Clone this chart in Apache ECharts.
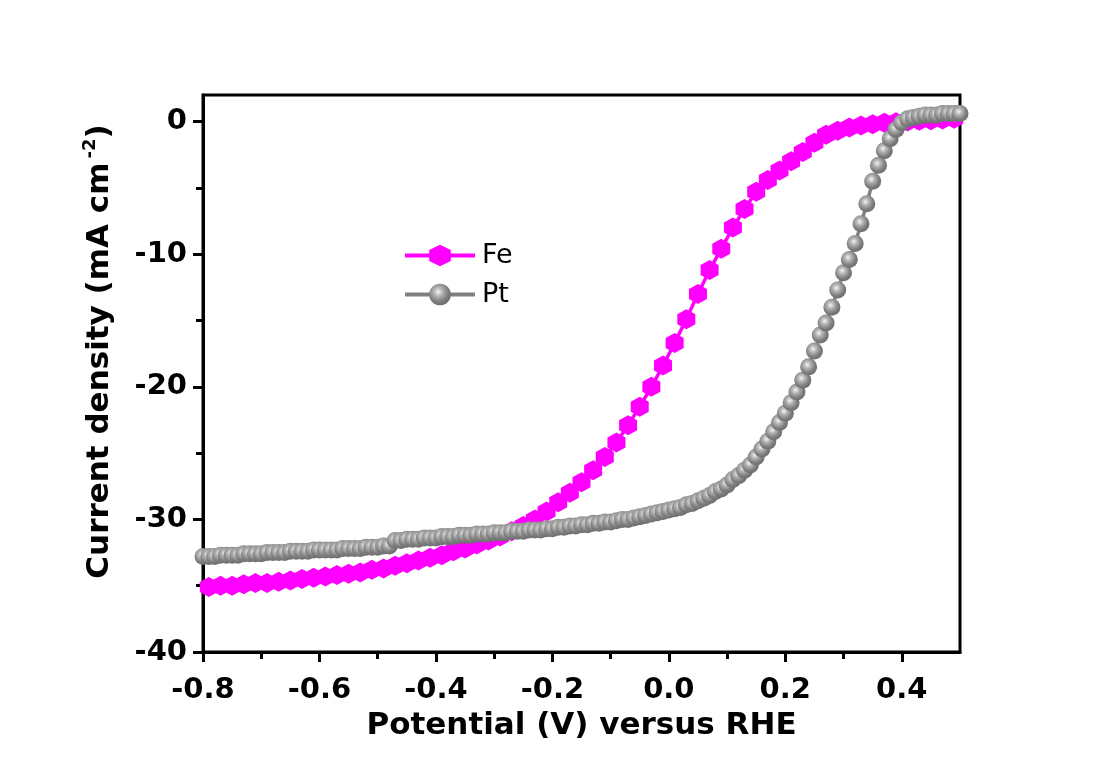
<!DOCTYPE html>
<html><head><meta charset="utf-8">
<script src="https://cdn.jsdelivr.net/npm/echarts@6/dist/echarts.min.js"></script>
<style>html,body{margin:0;padding:0;background:#fff}#c{width:1100px;height:774px}</style>
</head><body><div id="c"></div>
<script>
// ---- data ----
const seriesNames = ['Fe', 'Pt'];
const feX = [-0.79,-0.77,-0.75,-0.73,-0.71,-0.69,-0.67,-0.65,-0.63,-0.61,-0.59,-0.57,-0.55,-0.53,-0.51,-0.49,-0.47,-0.45,-0.43,-0.41,-0.39,-0.37,-0.35,-0.33,-0.31,-0.29,-0.27,-0.25,-0.23,-0.21,-0.19,-0.17,-0.15,-0.13,-0.11,-0.09,-0.07,-0.05,-0.03,-0.01,0.01,0.03,0.05,0.07,0.09,0.11,0.13,0.15,0.17,0.19,0.21,0.23,0.25,0.27,0.29,0.31,0.33,0.35,0.37,0.39,0.41,0.43,0.45,0.47,0.49];
const feY = [-35.1,-35.0,-35.0,-34.9,-34.8,-34.8,-34.7,-34.6,-34.5,-34.4,-34.3,-34.2,-34.1,-34.0,-33.8,-33.7,-33.5,-33.3,-33.1,-32.9,-32.7,-32.4,-32.2,-31.9,-31.6,-31.3,-30.9,-30.5,-30.0,-29.4,-28.7,-28.0,-27.2,-26.3,-25.3,-24.2,-22.9,-21.5,-20.0,-18.4,-16.7,-14.9,-13.0,-11.2,-9.6,-8.0,-6.6,-5.3,-4.4,-3.7,-3.0,-2.3,-1.6,-1.0,-0.7,-0.45,-0.3,-0.2,-0.1,-0.05,0.0,0.05,0.1,0.15,0.2];
const ptX = [-0.80,-0.79,-0.78,-0.77,-0.76,-0.75,-0.74,-0.73,-0.72,-0.71,-0.70,-0.69,-0.68,-0.67,-0.66,-0.65,-0.64,-0.63,-0.62,-0.61,-0.60,-0.59,-0.58,-0.57,-0.56,-0.55,-0.54,-0.53,-0.52,-0.51,-0.50,-0.49,-0.48,-0.47,-0.46,-0.45,-0.44,-0.43,-0.42,-0.41,-0.40,-0.39,-0.38,-0.37,-0.36,-0.35,-0.34,-0.33,-0.32,-0.31,-0.30,-0.29,-0.28,-0.27,-0.26,-0.25,-0.24,-0.23,-0.22,-0.21,-0.20,-0.19,-0.18,-0.17,-0.16,-0.15,-0.14,-0.13,-0.12,-0.11,-0.10,-0.09,-0.08,-0.07,-0.06,-0.05,-0.04,-0.03,-0.02,-0.01,0.00,0.01,0.02,0.03,0.04,0.05,0.06,0.07,0.08,0.09,0.10,0.11,0.12,0.13,0.14,0.15,0.16,0.17,0.18,0.19,0.20,0.21,0.22,0.23,0.24,0.25,0.26,0.27,0.28,0.29,0.30,0.31,0.32,0.33,0.34,0.35,0.36,0.37,0.38,0.39,0.40,0.41,0.42,0.43,0.44,0.45,0.46,0.47,0.48,0.49,0.50];
const ptY = [-32.8,-32.8,-32.8,-32.7,-32.7,-32.7,-32.7,-32.6,-32.6,-32.6,-32.6,-32.5,-32.5,-32.5,-32.5,-32.4,-32.4,-32.4,-32.4,-32.3,-32.3,-32.3,-32.3,-32.3,-32.2,-32.2,-32.2,-32.2,-32.1,-32.1,-32.1,-32.0,-32.0,-31.6,-31.6,-31.5,-31.5,-31.5,-31.4,-31.4,-31.4,-31.3,-31.3,-31.3,-31.2,-31.2,-31.2,-31.1,-31.1,-31.1,-31.0,-31.0,-31.0,-30.9,-30.9,-30.9,-30.8,-30.8,-30.8,-30.7,-30.7,-30.6,-30.6,-30.5,-30.5,-30.4,-30.4,-30.3,-30.3,-30.2,-30.2,-30.1,-30.0,-30.0,-29.9,-29.8,-29.7,-29.6,-29.5,-29.4,-29.3,-29.2,-29.1,-28.9,-28.8,-28.6,-28.4,-28.2,-27.9,-27.7,-27.4,-27.0,-26.7,-26.3,-25.9,-25.3,-24.7,-24.1,-23.4,-22.7,-22.0,-21.2,-20.4,-19.5,-18.5,-17.3,-16.1,-15.2,-14.0,-12.7,-11.4,-10.4,-9.2,-7.7,-6.2,-4.5,-3.3,-2.2,-1.3,-0.6,-0.1,0.2,0.3,0.4,0.5,0.5,0.5,0.6,0.6,0.6,0.6];
const xMajorTicks = [-0.8,-0.6,-0.4,-0.2,0.0,0.2,0.4];
const xMinorTicks = [-0.7,-0.5,-0.3,-0.1,0.1,0.3];
const yMajorTicks = [-40,-30,-20,-10,0];
const yMinorTicks = [-35,-25,-15,-5];
const xTitle = 'Potential (V) versus RHE';
const yTitle = '{a|Current density (mA cm}{s|-2}{a|)}';

// ---- chart ----
const chart = echarts.init(document.getElementById('c'), null, {renderer: 'canvas'});
const pair = (xs, ys) => xs.map((x, i) => [x, ys[i]]);
const hexPath = 'path://M0,-10L8.66,-5L8.66,5L0,10L-8.66,5L-8.66,-5Z';
const sphere = {
  type: 'radial', x: 0.42, y: 0.38, r: 0.62,
  colorStops: [
    {offset: 0, color: '#f4f4f4'},
    {offset: 0.35, color: '#b0b0b0'},
    {offset: 0.75, color: '#7c7c7c'},
    {offset: 1, color: '#6e6e6e'}
  ]
};
const tickFont = {fontFamily: 'DejaVu Sans', fontWeight: 'bold', fontSize: 29, color: '#000'};
const xMin = -0.8, xMax = 0.5, yMin = -40, yMax = 2;

const option = {
  backgroundColor: '#fff',
  animation: false,
  grid: {left: 203, right: 140, top: 95, bottom: 122, show: true, borderColor: '#000', borderWidth: 3, outerBoundsMode: 'none'},
  legend: {
    data: seriesNames, orient: 'vertical', left: 398, top: 237,
    itemWidth: 70, itemHeight: 27, itemGap: 12,
    lineStyle: {width: 4},
    textStyle: {fontFamily: 'DejaVu Sans', fontSize: 27, color: '#000', padding: [0,0,0,2]}
  },
  xAxis: [{
    type: 'value', min: xMin, max: xMax, interval: 0.2,
    axisLine: {show: true, onZero: false, lineStyle: {color: '#000', width: 3}},
    axisTick: {show: true, inside: false, length: 10, lineStyle: {color: '#000', width: 3}, customValues: xMajorTicks},
    axisLabel: Object.assign({margin: 24, customValues: xMajorTicks, formatter: v => v.toFixed(1)}, tickFont),
    splitLine: {show: false},
    name: xTitle, nameLocation: 'middle', nameGap: 58,
    nameTextStyle: {fontFamily: 'DejaVu Sans', fontWeight: 'bold', fontSize: 31, color: '#000'}
  }, {
    type: 'value', min: xMin, max: xMax, position: 'bottom', gridIndex: 0,
    axisLine: {show: false, onZero: false},
    axisTick: {show: true, length: 7, lineStyle: {color: '#000', width: 3}, customValues: xMinorTicks},
    axisLabel: {show: false}, splitLine: {show: false}
  }],
  yAxis: [{
    type: 'value', min: yMin, max: yMax, interval: 10,
    axisLine: {show: true, onZero: false, lineStyle: {color: '#000', width: 3}},
    axisTick: {show: true, inside: false, length: 10, lineStyle: {color: '#000', width: 3}, customValues: yMajorTicks},
    axisLabel: Object.assign({margin: 16, customValues: yMajorTicks}, tickFont),
    splitLine: {show: false},
    name: yTitle, nameLocation: 'middle', nameGap: 84,
    nameTextStyle: {
      padding: [0, 0, 0, 44],
      rich: {
        a: {fontFamily: 'DejaVu Sans', fontWeight: 'bold', fontSize: 31, color: '#000', lineHeight: 38},
        s: {fontFamily: 'DejaVu Sans', fontWeight: 'bold', fontSize: 18, color: '#000', verticalAlign: 'top', lineHeight: 38, padding: [0,0,0,4]}
      }
    }
  }, {
    type: 'value', min: yMin, max: yMax, position: 'left', gridIndex: 0,
    axisLine: {show: false, onZero: false},
    axisTick: {show: true, length: 7, lineStyle: {color: '#000', width: 3}, customValues: yMinorTicks},
    axisLabel: {show: false}, splitLine: {show: false}
  }],
  series: [{
    name: seriesNames[0], type: 'line', data: pair(feX, feY),
    symbol: hexPath, symbolSize: [18, 20], showAllSymbol: true,
    itemStyle: {color: '#ff00ff'}, lineStyle: {color: '#ff00ff', width: 3.5}, z: 2
  }, {
    name: seriesNames[1], type: 'line', data: pair(ptX, ptY),
    symbol: 'circle', symbolSize: 17, showAllSymbol: true,
    itemStyle: {color: sphere, borderWidth: 0}, lineStyle: {color: '#808080', width: 3.5}, z: 3
  }]
};
chart.setOption(option);
</script>
</body></html>
